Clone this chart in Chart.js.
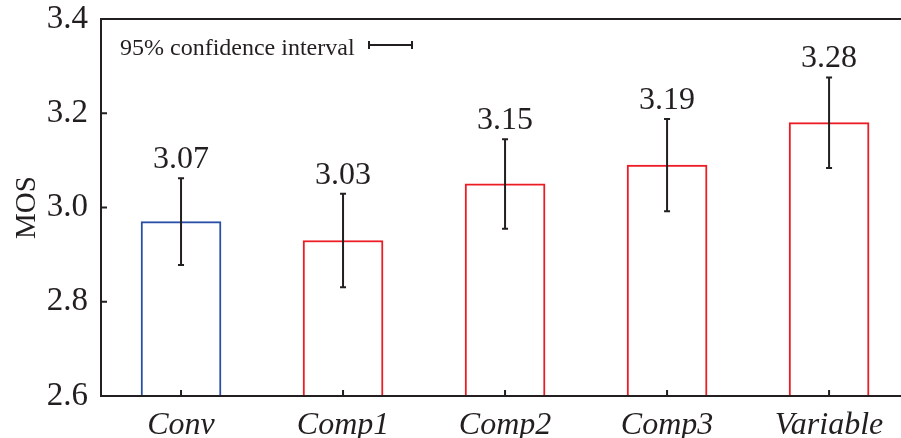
<!DOCTYPE html>
<html>
<head>
<meta charset="utf-8">
<script src="https://cdn.jsdelivr.net/npm/chart.js@4/dist/chart.umd.min.js"></script>
<style>
  html, body { margin: 0; padding: 0; background: #fff; }
  #wrap { width: 901px; height: 438px; position: relative; }
</style>
</head>
<body>
<div id="wrap"><canvas id="mos-chart"></canvas></div>
<script>
// Data
const categories = ['Conv', 'Comp1', 'Comp2', 'Comp3', 'Variable'];
const mosValues = [3.07, 3.03, 3.15, 3.19, 3.28];
const ciHalf = [0.092, 0.099, 0.095, 0.098, 0.096];
const barColors = ['#2a4fa6', '#ec1c24', '#ec1c24', '#ec1c24', '#ec1c24'];
const yTickValues = [2.7, 2.9, 3.1, 3.3, 3.5];
const yTickLabels = ['2.6', '2.8', '3.0', '3.2', '3.4'];

const ink = '#231f20';
const serif = "'Liberation Serif', 'Times New Roman', serif";

// Error bars, value labels, frame and the legend key
const decorations = {
  id: 'decorations',
  afterDatasetsDraw(chart) {
    const { ctx, chartArea: a, scales: { x, y } } = chart;
    ctx.save();
    ctx.strokeStyle = ink;
    ctx.fillStyle = ink;
    ctx.lineWidth = 2;

    mosValues.forEach((v, i) => {
      const px = x.getPixelForValue(i + 1);
      const top = y.getPixelForValue(v + ciHalf[i]);
      const bot = y.getPixelForValue(v - ciHalf[i]);
      ctx.beginPath();
      ctx.moveTo(px, top); ctx.lineTo(px, bot);
      ctx.moveTo(px - 3, top); ctx.lineTo(px + 3, top);
      ctx.moveTo(px - 3, bot); ctx.lineTo(px + 3, bot);
      ctx.stroke();

      ctx.font = '32px ' + serif;
      ctx.textAlign = 'center';
      ctx.textBaseline = 'alphabetic';
      ctx.fillText(v.toFixed(2), px, top - 10);
    });

    // frame: left, top, bottom
    ctx.beginPath();
    ctx.moveTo(a.right + 2, a.top); ctx.lineTo(a.left, a.top);
    ctx.lineTo(a.left, a.bottom); ctx.lineTo(a.right + 2, a.bottom);
    ctx.stroke();

    // inward tick marks
    ctx.beginPath();
    yTickValues.forEach(t => {
      const py = y.getPixelForValue(t);
      ctx.moveTo(a.left, py); ctx.lineTo(a.left + 6, py);
    });
    categories.forEach((c, i) => {
      const px = x.getPixelForValue(i + 1);
      ctx.moveTo(px, a.bottom); ctx.lineTo(px, a.bottom - 6);
    });
    ctx.stroke();

    // legend key
    ctx.font = '24px ' + serif;
    ctx.textAlign = 'left';
    ctx.fillText('95% confidence interval', a.left + 19, a.top + 36);
    const ly = a.top + 26;
    ctx.beginPath();
    ctx.moveTo(a.left + 267, ly); ctx.lineTo(a.left + 312, ly);
    ctx.moveTo(a.left + 268, ly - 4); ctx.lineTo(a.left + 268, ly + 4);
    ctx.moveTo(a.left + 311, ly - 4); ctx.lineTo(a.left + 311, ly + 4);
    ctx.stroke();
    ctx.restore();
  }
};

new Chart(document.getElementById('mos-chart'), {
  type: 'bar',
  data: {
    datasets: [{
      label: 'MOS',
      data: mosValues.map((v, i) => ({ x: i + 1, y: v })),
      backgroundColor: '#ffffff',
      borderColor: barColors,
      borderWidth: 2,
      barThickness: 80
    }]
  },
  options: {
    responsive: true,
    maintainAspectRatio: false,
    animation: false,
    layout: { padding: { top: 19, left: 0, right: 0, bottom: 0 } },
    plugins: { legend: { display: false }, tooltip: { enabled: false } },
    scales: {
      x: {
        type: 'linear',
        offset: false,
        min: 0.506,
        max: 5.444,
        grid: { display: false, drawTicks: false },
        border: { display: false },
        afterBuildTicks(scale) { scale.ticks = categories.map((c, i) => ({ value: i + 1 })); },
        afterFit(scale) {
          scale.height = 42;
          scale.paddingLeft = 0; scale.paddingRight = 0;
          scale.paddingTop = 0; scale.paddingBottom = 0;
        },
        ticks: {
          autoSkip: false,
          maxRotation: 0,
          padding: 10,
          color: ink,
          font: { family: serif, size: 32, style: 'italic' },
          callback: (v) => categories[v - 1]
        }
      },
      y: {
        min: 2.7,
        max: 3.5,
        grid: { display: false, drawTicks: false },
        border: { display: false },
        afterBuildTicks(scale) { scale.ticks = yTickValues.map(v => ({ value: v })); },
        afterFit(scale) {
          scale.width = 101;
          scale.paddingTop = 0; scale.paddingBottom = 0;
          scale.paddingLeft = 0; scale.paddingRight = 0;
        },
        title: {
          display: true,
          text: 'MOS',
          color: ink,
          padding: { top: 10, bottom: 0 },
          font: { family: serif, size: 29 }
        },
        ticks: {
          padding: 13,
          color: ink,
          font: { family: serif, size: 33 },
          callback: (v, i) => yTickLabels[i]
        }
      }
    }
  },
  plugins: [decorations]
});
</script>
</body>
</html>
